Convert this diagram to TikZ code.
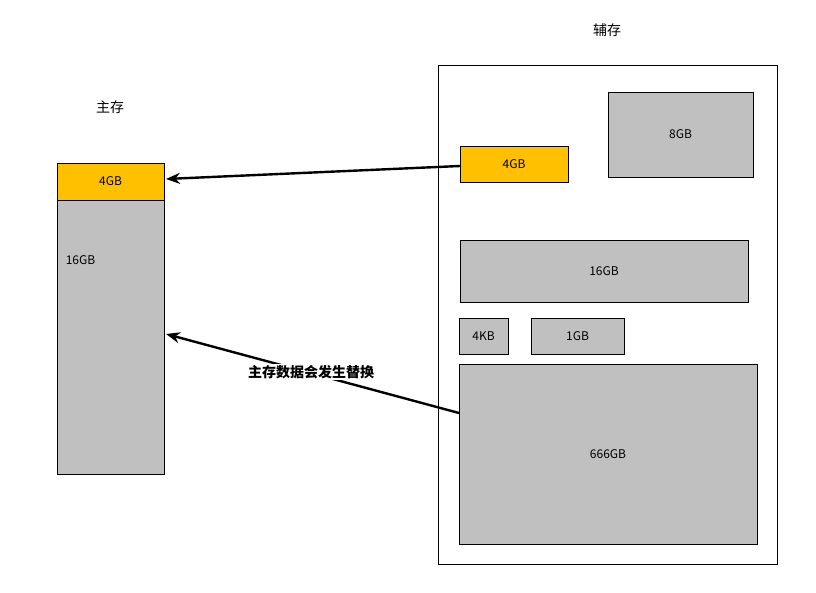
\documentclass[tikz,border=0pt]{standalone}
\usepackage{fontspec}
\setmainfont{Noto Sans CJK SC}
\usetikzlibrary{arrows.meta}
\definecolor{gr}{HTML}{C0C0C0}
\definecolor{og}{HTML}{FFC000}
\begin{document}
\begin{tikzpicture}[x=1pt,y=-1pt,
  box/.style={draw=black,line width=0.6pt,fill=gr,font=\fontsize{12}{14}\selectfont},
  obox/.style={box,fill=og},
  lab/.style={font=\fontsize{14}{16}\selectfont},
  arr/.style={line width=2.4pt,-{Stealth[length=14pt,width=11pt]}}]
\useasboundingbox (0,0) rectangle (816,593);
\node[lab] (t2) at (607,30) {辅存};
\draw[line width=0.6pt] (438,65) rectangle (777,564);
\node[lab] (t1) at (110,107) {主存};
\path[box] (608,92) rectangle (753,177) node[midway] (s8) {8GB};
\path[obox] (460,146) rectangle (568,182) node[midway] (s4) {4GB};
\coordinate (s4w) at (460,166);
\path[box] (460,240) rectangle (748,302) node[midway] (s16) {16GB};
\path[box] (459,318) rectangle (508,354) node[midway] (k4) {4KB};
\path[box] (531,318) rectangle (624,354) node[midway] (g1) {1GB};
\path[box] (459,364) rectangle (757,544) node[midway] (g666) {666GB};
\coordinate (g666w) at (459,413);
\path[obox] (57,163) rectangle (164,200) node[midway] (m4) {4GB};
\path[box] (57,200) rectangle (164,474) node[pos=0.22] (m16) {16GB};
\coordinate (m4e) at (166,179);
\coordinate (m16e) at (166,334);
\draw[arr] (s4w) -- (m4e);
\draw[arr] (g666w) -- (m16e);
\node[fill=white,inner sep=1pt,font=\bfseries\fontsize{14}{16}\selectfont] (rl) at (311,372) {主存数据会发生替换};
\end{tikzpicture}
\end{document}
